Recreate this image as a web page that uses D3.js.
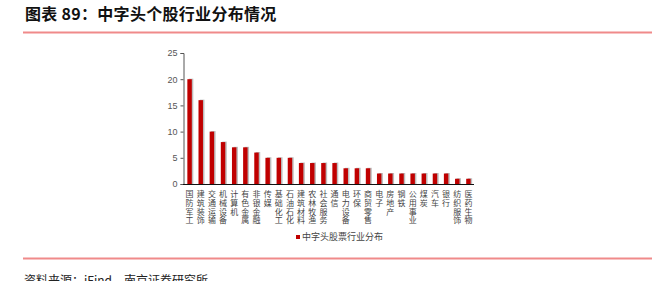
<!DOCTYPE html>
<html>
<head>
<meta charset="utf-8">
<script src="https://cdn.jsdelivr.net/npm/d3@7"></script>
<style>
  body { margin: 0; background: #fff; }
  svg { display: block; font-family: "Noto Sans CJK SC", "Noto Sans", sans-serif; }
</style>
</head>
<body>
<div id="chart"></div>
<script>
var categories = ["国防军工","建筑装饰","交通运输","机械设备","计算机","有色金属","非银金融","传媒","基础化工","石油石化","建筑材料","农林牧渔","社会服务","通信","电力设备","环保","商贸零售","电子","房地产","钢铁","公用事业","煤炭","汽车","银行","纺织服饰","医药生物"];
var counts = [20,16,10,8,7,7,6,5,5,5,4,4,4,4,3,3,3,2,2,2,2,2,2,2,1,1];
var yTicks = [0,5,10,15,20,25];
var seriesName = "中字头股票行业分布";

var width = 655, height = 281;
var svg = d3.select("#chart").append("svg")
  .attr("width", width).attr("height", height);

// title
svg.append("text")
  .attr("x", 25).attr("y", 20)
  .attr("font-size", 16).attr("font-weight", "bold")
  .attr("letter-spacing", 0.3)
  .attr("fill", "#111")
  .text("图表 89：中字头个股行业分布情况");

svg.append("line")
  .attr("x1", 23).attr("x2", 652).attr("y1", 32.5).attr("y2", 32.5)
  .attr("stroke", "#f08a8a").attr("stroke-width", 2);

svg.append("line")
  .attr("x1", 23).attr("x2", 652).attr("y1", 258.5).attr("y2", 258.5)
  .attr("stroke", "#f08a8a").attr("stroke-width", 2);

svg.append("text")
  .attr("x", 24).attr("y", 285)
  .attr("font-size", 12).attr("fill", "#222")
  .text("资料来源：iFind，南京证券研究所");

// plot
var x = d3.scaleBand()
  .domain(categories)
  .range([184, 474])
  .paddingInner(0.6).paddingOuter(0.3);

var y = d3.scaleLinear().domain([0, 25]).range([184, 53]);

// shadow bars
svg.append("g").selectAll("rect")
  .data(counts).enter().append("rect")
  .attr("x", function(d, i) { return x(categories[i]) + 1.5; })
  .attr("y", function(d) { return y(d) - 0.5; })
  .attr("width", x.bandwidth())
  .attr("height", function(d) { return y(0) - y(d) + 0.5; })
  .attr("fill", "#bdbdbd");

svg.append("g").selectAll("rect")
  .data(counts).enter().append("rect")
  .attr("x", function(d, i) { return x(categories[i]); })
  .attr("y", function(d) { return y(d); })
  .attr("width", x.bandwidth())
  .attr("height", function(d) { return y(0) - y(d); })
  .attr("fill", "#c00000");

// y axis
var yAxis = svg.append("g")
  .attr("transform", "translate(183.5,0)")
  .call(d3.axisLeft(y).tickValues(yTicks).tickSize(3).tickPadding(3));
yAxis.select(".domain").attr("stroke", "#555");
yAxis.selectAll(".tick line").attr("stroke", "#555");
yAxis.selectAll(".tick text").attr("font-size", 9).attr("fill", "#555")
  .attr("font-family", "Liberation Sans, Arial, sans-serif");

// x axis line
svg.append("line")
  .attr("x1", 183).attr("x2", 474).attr("y1", 184.5).attr("y2", 184.5)
  .attr("stroke", "#111").attr("stroke-width", 1.2);

// vertical category labels, one character per line
var labelG = svg.append("g");
categories.forEach(function(c) {
  var cx = x(c) + x.bandwidth() / 2;
  c.split("").forEach(function(ch, k) {
    labelG.append("text")
      .attr("x", cx).attr("y", 197 + k * 8.8)
      .attr("font-size", 8).attr("fill", "#444")
      .attr("text-anchor", "middle")
      .text(ch);
  });
});

// legend
svg.append("rect")
  .attr("x", 296).attr("y", 235).attr("width", 4).attr("height", 4)
  .attr("fill", "#c00000");
svg.append("text")
  .attr("x", 302).attr("y", 240)
  .attr("font-size", 9).attr("fill", "#444")
  .text(seriesName);
</script>
</body>
</html>
